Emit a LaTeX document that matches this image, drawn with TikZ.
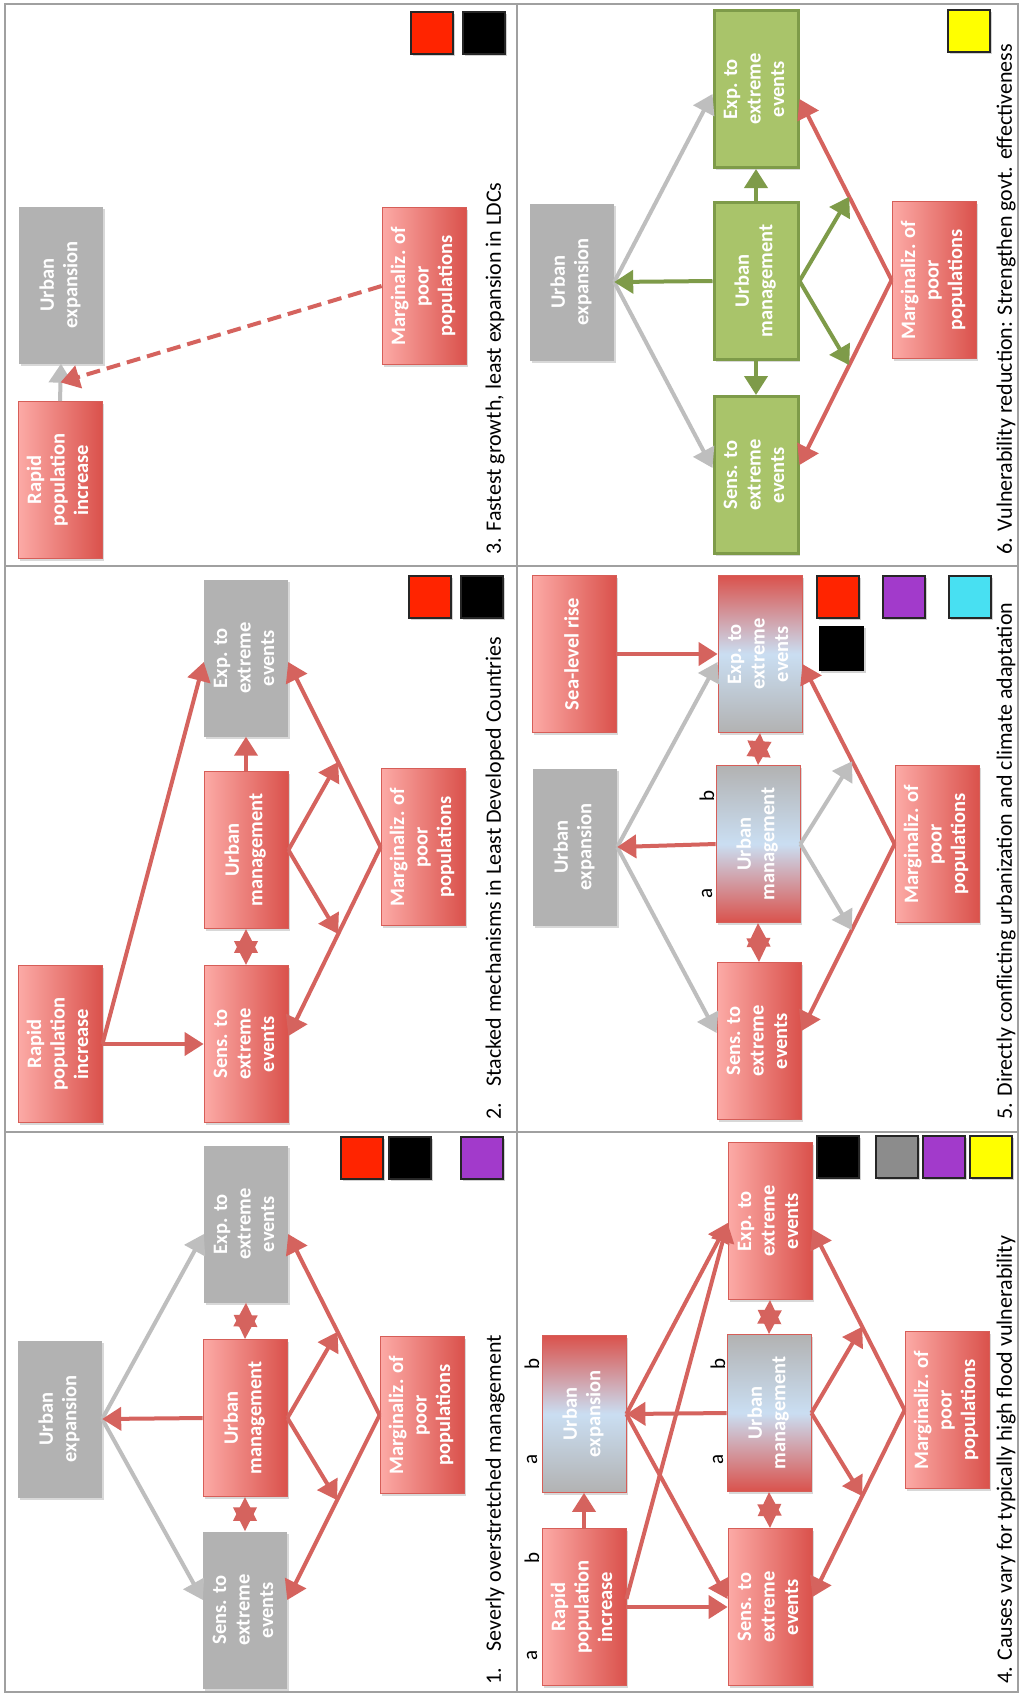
\documentclass[tikz,border=0pt]{standalone}
\usepackage{fontspec}
\setmainfont{Carlito}
\usepackage{graphicx}
\usetikzlibrary{arrows.meta,calc,shadows}
\definecolor{rline}{RGB}{213,99,94}
\definecolor{gline}{RGB}{190,190,190}
\definecolor{grnline}{RGB}{126,155,73}
\definecolor{rlight}{RGB}{252,170,166}
\definecolor{rdark}{RGB}{218,82,76}
\definecolor{rborder}{RGB}{214,94,88}
\definecolor{boxgray}{RGB}{178,178,178}
\definecolor{gfill}{RGB}{169,196,106}
\definecolor{gborder}{RGB}{126,155,73}
\definecolor{lblue}{RGB}{202,222,242}
\definecolor{panelline}{RGB}{160,160,160}
\definecolor{sqred}{RGB}{255,36,0}
\definecolor{sqpurple}{RGB}{162,58,203}
\definecolor{sqcyan}{RGB}{72,224,242}
\definecolor{sqgray}{RGB}{140,140,140}
\definecolor{sqyellow}{RGB}{255,255,0}
\newcommand{\vtxt}[1]{\rotatebox{90}{\begin{tabular}{@{}c@{}}#1\end{tabular}}}
\begin{document}
\begin{tikzpicture}[x=1pt,y=-1pt,
  bx/.style={minimum width=84pt, minimum height=157pt, inner sep=0pt, text=white,
     font=\fontsize{20.5}{23.5}\selectfont\bfseries,
     drop shadow={opacity=0.3, shadow xshift=2pt, shadow yshift=-2pt}},
  rbox/.style={bx, draw=rborder, line width=0.8pt, left color=rlight, right color=rdark},
  gbox/.style={bx, fill=boxgray},
  grbox/.style={bx, draw=gborder, line width=3pt, fill=gfill},
  mixA/.style={bx, draw=rborder, line width=0.8pt, top color=rdark, bottom color=boxgray, middle color=lblue},
  mixB/.style={bx, draw=rborder, line width=0.8pt, top color=boxgray, bottom color=rdark, middle color=lblue},
  ra/.style={draw=rline, line width=4pt, -{Triangle[length=19pt,width=23pt]}},
  rd/.style={draw=rline, line width=4pt, {Triangle[length=24pt,width=23pt]}-{Triangle[length=24pt,width=23pt]}},
  ga/.style={draw=gline, line width=4pt, -{Triangle[length=19pt,width=23pt]}},
  gra/.style={draw=grnline, line width=4pt, -{Triangle[length=19pt,width=23pt]}},
  sq/.style={minimum size=42pt, inner sep=0pt, draw=black!85, line width=1.3pt,
     drop shadow={opacity=0.35, shadow xshift=2pt, shadow yshift=-2pt}},
  capt/.style={anchor=south, inner sep=0pt, font=\fontsize{22}{26}\selectfont},
  ablab/.style={inner sep=0pt, font=\fontsize{21}{24}\selectfont}
]
\useasboundingbox (0,0) rectangle (1020,1695);
\fill[white] (0,0) rectangle (1020,1695);
% panel frame
\draw[panelline, line width=2pt] (5,4) rectangle (1018,1692);
\draw[panelline, line width=2pt] (517,4) -- (517,1692);
\draw[panelline, line width=2pt] (5,566) -- (1018,566);
\draw[panelline, line width=2pt] (5,1132) -- (1018,1132);

% ---------------- Panel 3
\node[gbox] (p3ue) at (61,285) {\vtxt{Urban\\expansion}};
\node[rbox] (p3rp) at (60,480) {\vtxt{Rapid\\population\\increase}};
\node[rbox] (p3mp) at (424,286) {\vtxt{Marginaliz. of\\poor\\populations}};
\draw[ga] (p3rp.north) -- coordinate[pos=0.5] (p3mid) (p3ue.south);
\draw[ra, dash pattern=on 14pt off 7pt] (p3mp.west) -- (p3mid);
\node[sq, fill=sqred] (p3s1) at (432,33) {};
\node[sq, fill=black] (p3s2) at (484,33) {};
\node[capt] (p3cap) at (495,555) {\rotatebox{90}{3. Fastest growth, least expansion in LDCs}};

% ---------------- Panel 2
\node[gbox] (p2exp) at (246,658) {\vtxt{Exp. to\\extreme\\events}};
\node[rbox] (p2um) at (246,850) {\vtxt{Urban\\management}};
\node[rbox] (p2sens) at (246,1044) {\vtxt{Sens. to\\extreme\\events}};
\node[rbox] (p2rp) at (60,1044) {\vtxt{Rapid\\population\\increase}};
\node[rbox] (p2mp) at (423,847) {\vtxt{Marginaliz. of\\poor\\populations}};
\draw[ra] (p2rp.east) -- (p2sens.west);
\draw[ra] (p2rp.east) -- ($(p2exp.west)+(0,4)$);
\draw[ra] (p2um.north) -- (p2exp.south);
\draw[rd] (p2um.south) -- (p2sens.north);
\draw[ra] (p2mp.west) -- coordinate[pos=0.46] (p2c1) ($(p2exp.east)+(0,4)$);
\draw[ra] (p2mp.west) -- coordinate[pos=0.46] (p2c2) ($(p2sens.east)+(0,-8)$);
\draw[ra] (p2um.east) -- (p2c1);
\draw[ra] (p2um.east) -- (p2c2);
\node[sq, fill=sqred] (p2s1) at (430,597) {};
\node[sq, fill=black] (p2s2) at (482,597) {};
\node[capt] (p2cap) at (495,1120) {\rotatebox{90}{2.\hspace{0.75em}Stacked mechanisms in Least Developed Countries}};

% ---------------- Panel 1
\node[gbox] (p1exp) at (246,1224) {\vtxt{Exp. to\\extreme\\events}};
\node[rbox] (p1um) at (245,1418) {\vtxt{Urban\\management}};
\node[gbox] (p1sens) at (245,1610) {\vtxt{Sens. to\\extreme\\events}};
\node[gbox] (p1ue) at (60,1419) {\vtxt{Urban\\expansion}};
\node[rbox] (p1mp) at (422,1415) {\vtxt{Marginaliz. of\\poor\\populations}};
\draw[ga] (p1ue.east) -- ($(p1exp.west)+(0,10)$);
\draw[ga] (p1ue.east) -- ($(p1sens.west)+(0,-10)$);
\draw[ra] (p1um.west) -- (p1ue.east);
\draw[rd] (p1um.north) -- (p1exp.south);
\draw[rd] (p1um.south) -- (p1sens.north);
\draw[ra] (p1mp.west) -- coordinate[pos=0.46] (p1c1) ($(p1exp.east)+(0,10)$);
\draw[ra] (p1mp.west) -- coordinate[pos=0.46] (p1c2) ($(p1sens.east)+(0,-10)$);
\draw[ra] (p1um.east) -- (p1c1);
\draw[ra] (p1um.east) -- (p1c2);
\node[sq, fill=sqred] (p1s1) at (362,1158) {};
\node[sq, fill=black] (p1s2) at (410,1158) {};
\node[sq, fill=sqpurple] (p1s3) at (482,1158) {};
\node[capt] (p1cap) at (495,1685) {\rotatebox{90}{1.\hspace{0.75em}Severly overstretched management}};

% ---------------- Panel 6
\node[grbox] (p6exp) at (756,89) {\vtxt{Exp. to\\extreme\\events}};
\node[grbox] (p6um) at (756,281) {\vtxt{Urban\\management}};
\node[grbox] (p6sens) at (756,475) {\vtxt{Sens. to\\extreme\\events}};
\node[gbox] (p6ue) at (572,282) {\vtxt{Urban\\expansion}};
\node[rbox] (p6mp) at (934,280) {\vtxt{Marginaliz. of\\poor\\populations}};
\draw[ga] (p6ue.east) -- ($(p6exp.west)+(0,5)$);
\draw[ga] (p6ue.east) -- ($(p6sens.west)+(0,-7)$);
\draw[gra] (p6um.west) -- (p6ue.east);
\draw[gra] (p6um.north) -- (p6exp.south);
\draw[gra] (p6um.south) -- (p6sens.north);
\draw[ra] (p6mp.west) -- coordinate[pos=0.46] (p6c1) ($(p6exp.east)+(0,10)$);
\draw[ra] (p6mp.west) -- coordinate[pos=0.46] (p6c2) ($(p6sens.east)+(0,-10)$);
\draw[gra] (p6um.east) -- (p6c1);
\draw[gra] (p6um.east) -- (p6c2);
\node[sq, fill=sqyellow] (p6s1) at (969,31) {};
\node[capt] (p6cap) at (1006,555) {\rotatebox{90}{6. Vulnerability reduction: Strengthen govt. effectiveness}};

% ---------------- Panel 5
\node[rbox] (p5slr) at (574,654) {\vtxt{Sea-level rise}};
\node[mixA] (p5exp) at (760,654) {\vtxt{Exp. to\\extreme\\events}};
\node[mixB] (p5um) at (758,844) {\vtxt{Urban\\management}};
\node[gbox] (p5ue) at (575,847) {\vtxt{Urban\\expansion}};
\node[rbox] (p5sens) at (759,1041) {\vtxt{Sens. to\\extreme\\events}};
\node[rbox] (p5mp) at (937,844) {\vtxt{Marginaliz. of\\poor\\populations}};
\node[ablab] (p5b) at (707,796) {\rotatebox{90}{b}};
\node[ablab] (p5a) at (707,893) {\rotatebox{90}{a}};
\draw[ga] (p5ue.east) -- ($(p5exp.west)+(0,8)$);
\draw[ga] (p5ue.east) -- ($(p5sens.west)+(0,-8)$);
\draw[ra] (p5slr.east) -- (p5exp.west);
\draw[ra] (p5um.west) -- (p5ue.east);
\draw[rd] (p5um.north) -- (p5exp.south);
\draw[rd] (p5um.south) -- (p5sens.north);
\draw[ra] (p5mp.west) -- coordinate[pos=0.46] (p5c1) ($(p5exp.east)+(0,10)$);
\draw[ra] (p5mp.west) -- coordinate[pos=0.46] (p5c2) ($(p5sens.east)+(0,-10)$);
\draw[ga] (p5um.east) -- (p5c1);
\draw[ga] (p5um.east) -- (p5c2);
\node[sq, fill=sqred] (p5s1) at (838,597) {};
\node[sq, fill=black, draw=none, minimum size=45pt] (p5s2) at (841,648) {};
\node[sq, fill=sqpurple] (p5s3) at (904,597) {};
\node[sq, fill=sqcyan] (p5s4) at (970,597) {};
\node[capt] (p5cap) at (1006,1120) {\rotatebox{90}{5. Directly conflicting urbanization and climate adaptation}};

% ---------------- Panel 4
\node[rbox] (p4exp) at (770,1221) {\vtxt{Exp. to\\extreme\\events}};
\node[mixB] (p4um) at (769,1413) {\vtxt{Urban\\management}};
\node[rbox] (p4sens) at (770,1607) {\vtxt{Sens. to\\extreme\\events}};
\node[mixA] (p4ue) at (584,1414) {\vtxt{Urban\\expansion}};
\node[rbox] (p4rp) at (584,1607) {\vtxt{Rapid\\population\\increase}};
\node[rbox] (p4mp) at (947,1410) {\vtxt{Marginaliz. of\\poor\\populations}};
\node[ablab] (p4ueb) at (532,1364) {\rotatebox{90}{b}};
\node[ablab] (p4uea) at (532,1459) {\rotatebox{90}{a}};
\node[ablab] (p4rpb) at (532,1558) {\rotatebox{90}{b}};
\node[ablab] (p4rpa) at (532,1655) {\rotatebox{90}{a}};
\node[ablab] (p4umb) at (718,1364) {\rotatebox{90}{b}};
\node[ablab] (p4uma) at (718,1459) {\rotatebox{90}{a}};
\draw[ra] (p4rp.north) -- (p4ue.south);
\draw[ra] (p4rp.east) -- (p4sens.west);
\draw[ra] ($(p4rp.east)+(0,-8)$) -- ($(p4exp.west)+(0,2)$);
\draw[ra] (p4ue.east) -- ($(p4exp.west)+(0,2)$);
\draw[ra] (p4ue.east) -- ($(p4sens.west)+(0,-8)$);
\draw[ra] (p4um.west) -- (p4ue.east);
\draw[rd] (p4um.north) -- (p4exp.south);
\draw[rd] (p4um.south) -- (p4sens.north);
\draw[ra] (p4mp.west) -- coordinate[pos=0.46] (p4c1) ($(p4exp.east)+(0,8)$);
\draw[ra] (p4mp.west) -- coordinate[pos=0.46] (p4c2) ($(p4sens.east)+(0,-10)$);
\draw[ra] (p4um.east) -- (p4c1);
\draw[ra] (p4um.east) -- (p4c2);
\node[sq, fill=black] (p4s1) at (838,1157) {};
\node[sq, fill=sqgray] (p4s2) at (897,1157) {};
\node[sq, fill=sqpurple] (p4s3) at (944,1157) {};
\node[sq, fill=sqyellow] (p4s4) at (991,1157) {};
\node[capt] (p4cap) at (1006,1684) {\rotatebox{90}{4. Causes vary for typically high flood vulnerability}};
\end{tikzpicture}
\end{document}
